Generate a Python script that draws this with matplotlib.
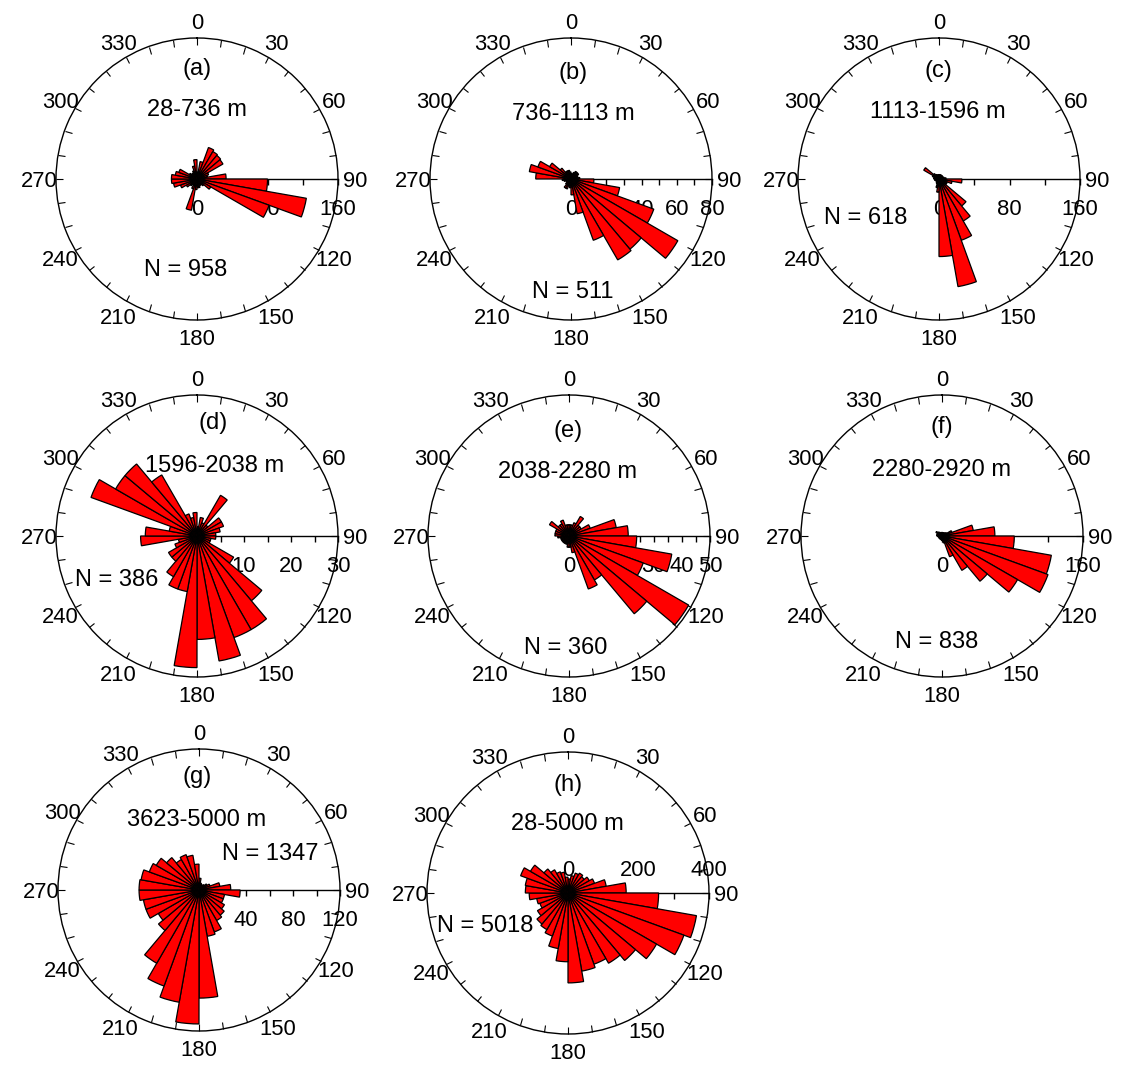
import numpy as np
import matplotlib
matplotlib.use("Agg")
import matplotlib.pyplot as plt
from matplotlib.markers import TICKDOWN, TICKUP

plt.rcParams['font.family'] = ['Liberation Sans', 'DejaVu Sans']

# ---------------- data: counts per 10-degree azimuth bin (0-10, 10-20, ... 350-360)
bin_starts = list(range(0, 360, 10))

counts_a = [8, 20, 38, 36, 35, 34, 14, 12, 33, 80, 126, 87, 18, 10, 8, 8, 10, 10,
            12, 36, 12, 8, 10, 14, 20, 27, 29, 29, 25, 22, 10, 8, 8, 10, 15, 22]
counts_b = [3, 3, 4, 5, 5, 5, 4, 4, 5, 13, 28, 50, 70, 52, 53, 37, 20, 9,
            5, 4, 6, 6, 4, 3, 3, 4, 5, 20, 24, 20, 14, 8, 5, 5, 5, 4]
counts_c = [5, 5, 5, 5, 5, 5, 5, 6, 8, 26, 15, 10, 10, 40, 55, 74, 124, 88,
            15, 10, 6, 5, 4, 4, 4, 5, 5, 6, 6, 8, 20, 8, 6, 5, 5, 5]
counts_d = [2, 4, 3, 10, 3, 6, 6, 5, 4, 4, 3, 3, 9, 18, 23, 23, 27, 22,
            28, 12, 12, 10, 7, 7, 5, 4, 12, 11, 6, 24, 20, 20, 15, 5, 4, 5]
counts_e = [4, 4, 5, 8, 5, 5, 8, 17, 21, 24, 37, 28, 49, 36, 18, 20, 6, 4,
            4, 3, 3, 3, 3, 3, 3, 3, 4, 5, 5, 5, 8, 5, 5, 6, 4, 4]
counts_f = [4, 4, 4, 4, 5, 6, 12, 36, 60, 82, 126, 128, 99, 67, 45, 25, 8, 5,
            5, 4, 4, 4, 4, 4, 4, 4, 5, 6, 6, 6, 8, 6, 5, 4, 4, 4]
counts_g = [10, 6, 5, 5, 6, 8, 10, 18, 27, 35, 22, 22, 25, 28, 30, 38, 40, 92,
            114, 97, 87, 72, 45, 40, 48, 48, 51, 51, 50, 45, 42, 36, 30, 32, 30, 22]
counts_h = [40, 50, 60, 65, 60, 70, 80, 110, 165, 257, 370, 350, 290, 250, 230, 215, 225, 255,
            195, 160, 130, 120, 115, 100, 85, 90, 110, 121, 123, 143, 123, 89, 76, 64, 60, 45]

panel_letters = ['(a)', '(b)', '(c)', '(d)', '(e)', '(f)', '(g)', '(h)']
depth_ranges = ['28-736 m', '736-1113 m', '1113-1596 m', '1596-2038 m',
                '2038-2280 m', '2280-2920 m', '3623-5000 m', '28-5000 m']
sample_sizes = [958, 511, 618, 386, 360, 838, 1347, 5018]
radial_max = [160, 80, 160, 30, 50, 160, 120, 400]
radial_tick_step = [40, 10, 40, 5, 5, 40, 20, 100]
radial_label_step = [80, 20, 80, 10, 10, 80, 40, 200]
angle_labels = list(range(0, 360, 30))

all_counts = [counts_a, counts_b, counts_c, counts_d, counts_e, counts_f, counts_g, counts_h]

# ---------------- layout (pixels)
W, H = 1121, 1072
R = 141
centers = [(197, 179), (571, 179), (939, 179),
           (197, 536), (569, 536), (942, 536),
           (199, 890), (568, 893)]
letter_pos = [(197, 66), (573, 70), (938, 68), (213, 420), (568, 428), (942, 425), (197, 775), (568, 782)]
depth_pos = [(197, 107), (573, 112), (938, 110), (215, 463), (568, 470), (942, 467), (197, 817), (567, 822)]
n_pos = [(186, 268), (573, 289), (866, 215), (117, 578), (566, 645), (937, 639), (270, 852), (485, 923)]
labels_above = [False] * 7 + [True]

FS = 17
FS_TICK = 15.8

fig = plt.figure(figsize=(W / 100, H / 100), dpi=100)

for i in range(8):
    cx, cy = centers[i]
    ax = fig.add_axes([(cx - R) / W, (H - cy - R) / H, 2 * R / W, 2 * R / H], projection='polar')
    ax.set_theta_zero_location('N')
    ax.set_theta_direction(-1)
    rmax = radial_max[i]
    ax.set_ylim(0, rmax)
    ax.set_yticks([])
    ax.grid(False)
    ax.set_xticks(np.deg2rad(np.arange(0, 360, 10)))
    ax.set_xticklabels([])
    ax.tick_params(axis='x', which='major', top=True, bottom=False, labeltop=False, labelbottom=False,
                   direction='in', length=5, width=0.8, color='black')
    ax.spines['polar'].set_linewidth(1.0)

    # radial axis along 90 degrees
    ax.plot([np.pi / 2, np.pi / 2], [0, rmax], color='black', lw=1.0, zorder=1, clip_on=False)
    ticks = np.arange(0, rmax + 1e-9, radial_tick_step[i])
    ax.plot(np.full(len(ticks), np.pi / 2), ticks, linestyle='none',
            marker=TICKDOWN, markersize=4, mew=1.0, color='black', zorder=1, clip_on=False)
    for v in np.arange(0, rmax + 1e-9, radial_label_step[i]):
        if labels_above[i]:
            ax.annotate(f'{int(v)}', xy=(np.pi / 2, v), xytext=(0, 12), textcoords='offset points',
                        ha='center', va='baseline', fontsize=FS_TICK, zorder=1)
        else:
            ax.annotate(f'{int(v)}', xy=(np.pi / 2, v), xytext=(0, -26), textcoords='offset points',
                        ha='center', va='baseline', fontsize=FS_TICK, zorder=1)

    # bars
    ax.bar(np.deg2rad(bin_starts), all_counts[i], width=np.deg2rad(10), align='edge',
           color='#ff0000', edgecolor='black', linewidth=0.9, zorder=2)

    # angle labels
    for a in angle_labels:
        ax.text(np.deg2rad(a), rmax * 1.12, str(a), ha='center', va='center_baseline',
                fontsize=FS_TICK, clip_on=False)

    fig.text(letter_pos[i][0] / W, 1 - letter_pos[i][1] / H, panel_letters[i],
             ha='center', va='center_baseline', fontsize=FS)
    fig.text(depth_pos[i][0] / W, 1 - depth_pos[i][1] / H, depth_ranges[i],
             ha='center', va='center_baseline', fontsize=FS)
    fig.text(n_pos[i][0] / W, 1 - n_pos[i][1] / H, f'N = {sample_sizes[i]}',
             ha='center', va='center_baseline', fontsize=FS)

fig.savefig('out.png', dpi=100)
